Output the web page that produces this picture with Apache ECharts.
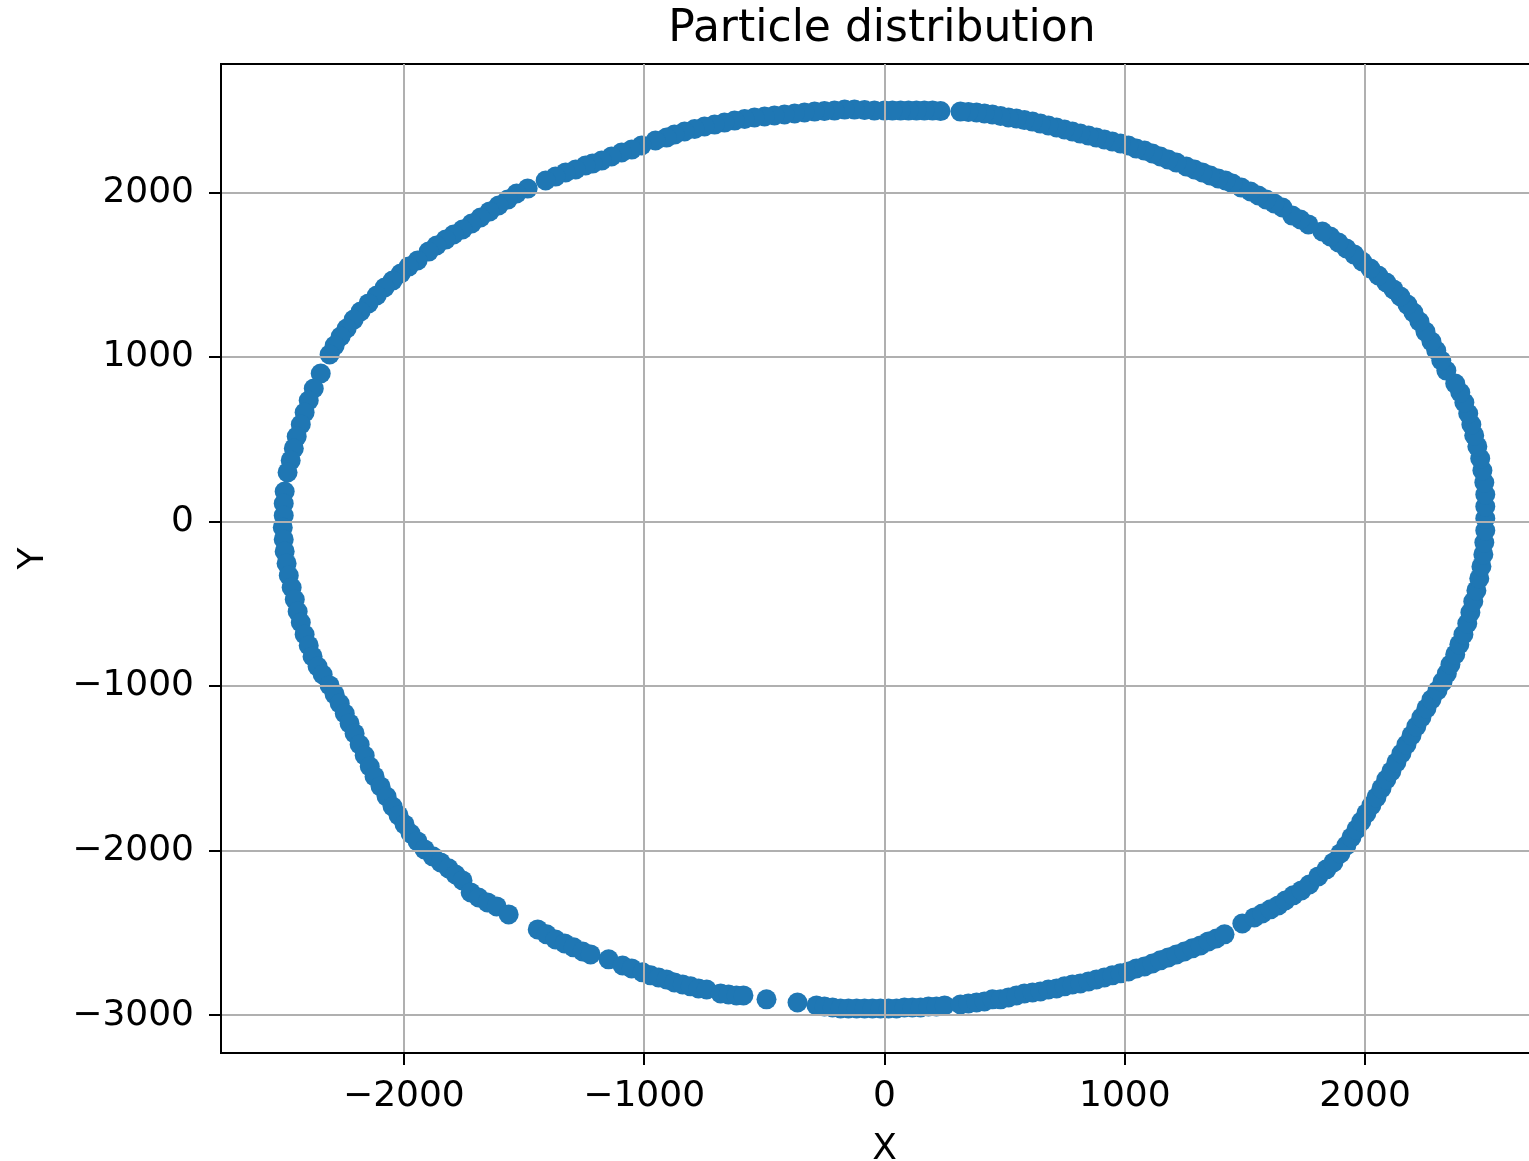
<!DOCTYPE html>
<html><head><meta charset="utf-8">
<script src="https://cdn.jsdelivr.net/npm/echarts@6/dist/echarts.min.js"></script>
<style>html,body{margin:0;padding:0;background:#fff}#chart{width:1529px;height:1161px}</style>
</head><body><div id="chart"></div>
<script>
const titleText = 'Particle distribution';
const xName = 'X';
const yName = 'Y';
const xTicks = [-2000, -1000, 0, 1000, 2000];
const yTicks = [-3000, -2000, -1000, 0, 1000, 2000];

const upperLeft = [
[0,2497],[-42,2497],[-83,2500],[-125,2503],[-166,2503],[-208,2497],[-250,2494],[-291,2491],[-333,2485],[-374,2479],[-416,2473],[-458,2467],[-499,2461],[-541,2455],[-582,2446],[-624,2436],[-666,2424],[-707,2412],[-749,2400],[-790,2385],[-832,2370],[-874,2351],[-907,2333],[-953,2315],
[-1011,2285],[-1052,2260],[-1094,2242],[-1136,2218],[-1177,2193],[-1215,2175],
[-1244,2163],[-1285,2139],[-1327,2121],[-1369,2096],[-1410,2072],
[-1485,2023],
[-1531,1993],[-1568,1956],[-1606,1920],[-1643,1884],[-1681,1847],[-1718,1811],[-1756,1774],[-1793,1744],[-1826,1713],
[-1864,1677],[-1897,1640],[-1943,1586],
[-1980,1549],[-2013,1507],[-2047,1464],[-2080,1422],[-2113,1373],[-2147,1325],[-2180,1276],[-2209,1227],[-2238,1173],[-2263,1124],[-2288,1069],[-2309,1015],
[-2346,899],
[-2375,808],[-2396,735],[-2413,662],[-2429,589],[-2446,516],[-2458,444],[-2471,371],[-2484,298]
];

const lowerLeft = [
[-2496,182],[-2500,109],[-2500,36],[-2504,-36],[-2500,-109],[-2496,-182],[-2488,-255],[-2479,-328],[-2467,-401],[-2454,-474],[-2442,-547],[-2429,-614],[-2413,-687],[-2396,-753],[-2380,-820],[-2359,-881],[-2338,-930],
[-2309,-996],[-2288,-1051],[-2267,-1106],[-2246,-1167],[-2226,-1227],[-2205,-1288],[-2184,-1355],[-2163,-1422],[-2142,-1489],[-2122,-1549],[-2097,-1610],[-2072,-1671],[-2047,-1732],[-2022,-1786],[-1997,-1841],[-1972,-1896],[-1943,-1944],[-1914,-1993],[-1880,-2035],[-1847,-2072],[-1814,-2108],[-1785,-2145],[-1756,-2181],
[-1722,-2254],[-1689,-2285],[-1652,-2315],[-1614,-2339],[-1564,-2388],
[-1443,-2479],[-1406,-2509],[-1369,-2540],[-1331,-2564],[-1294,-2588],[-1256,-2613],[-1223,-2631],
[-1148,-2661],
[-1090,-2698],[-1052,-2716],[-1007,-2740],[-973,-2758],[-940,-2771],[-907,-2783],[-874,-2801],[-840,-2813],[-807,-2825],[-774,-2838],[-740,-2844],
[-682,-2868],[-649,-2874],[-616,-2880],[-587,-2880],
[-491,-2904],[-362,-2923],
[-283,-2941],[-250,-2947],[-216,-2953],[-183,-2959],[-150,-2959],[-116,-2959],[-83,-2959],[-50,-2959],[-17,-2959]
];

const lowerRight = [
[17,-2959],[50,-2959],[83,-2953],[116,-2953],[150,-2953],[183,-2947],[216,-2947],[250,-2941],
[316,-2935],[349,-2929],[383,-2923],[416,-2917],[449,-2904],[483,-2904],[516,-2892],[549,-2880],[582,-2868],[616,-2862],[649,-2856],[682,-2844],[716,-2838],[749,-2825],[782,-2813],[815,-2807],
[849,-2795],[882,-2783],[915,-2771],[948,-2758],[982,-2746],[1015,-2734],[1048,-2716],[1082,-2704],[1115,-2686],[1148,-2667],[1181,-2649],[1215,-2631],[1248,-2613],[1281,-2594],[1315,-2576],[1348,-2552],[1381,-2534],[1415,-2509],
[1489,-2443],
[1539,-2406],[1572,-2382],[1606,-2357],[1639,-2333],
[1668,-2303],[1701,-2272],[1735,-2242],[1768,-2206],
[1805,-2157],[1839,-2114],[1868,-2072],[1897,-2017],[1922,-1969],[1943,-1920],[1964,-1871],[1984,-1823],[2005,-1774],[2026,-1726],[2047,-1677],[2068,-1622],[2088,-1568],[2109,-1519],[2130,-1464],[2151,-1410],[2172,-1355],[2193,-1300],[2213,-1246],[2234,-1191],[2255,-1136],[2276,-1082],
[2301,-1027],[2322,-975],[2340,-924],[2355,-869],[2375,-808],[2392,-747],[2409,-687],[2425,-620],[2438,-553],[2450,-486],[2463,-419],[2475,-346],[2484,-273],[2492,-200],[2496,-128],[2500,-55]
];

const upperRight = [
[2500,18],[2500,91],[2500,164],[2496,237],[2488,310],[2479,383],[2467,456],[2454,523],[2442,589],[2429,656],[2413,723],[2396,784],[2375,838],
[2338,917],[2317,978],[2296,1039],[2276,1094],[2251,1154],[2226,1215],[2201,1270],[2176,1318],[2147,1367],[2118,1410],[2088,1452],[2055,1495],[2022,1537],[1988,1580],[1955,1622],[1922,1659],[1889,1695],[1855,1732],[1822,1762],
[1764,1805],[1731,1835],[1697,1859],
[1656,1908],[1622,1932],[1589,1956],[1556,1981],[1523,2005],[1485,2029],[1448,2054],
[1419,2072],[1389,2084],[1356,2102],[1323,2121],[1290,2139],[1256,2157],
[1215,2181],[1181,2199],[1148,2218],[1115,2236],[1082,2254],[1048,2266],[1015,2285],[982,2297],[948,2309],[915,2321],[882,2333],[849,2345],[815,2357],[782,2370],[749,2382],[716,2394],[682,2406],[649,2418],[616,2430],[582,2439],[549,2449],[516,2455],[483,2464],[449,2473],[416,2479],[383,2485],[349,2488],[316,2491],
[233,2494],[200,2497],[166,2497],[133,2497],[100,2497],[67,2497],[33,2497]
];

const particles = upperLeft.concat(lowerLeft, lowerRight, upperRight);
const fmt = v => String(v).replace('-', '\u2212');
const FONT = 'DejaVu Sans';

const chart = echarts.init(document.getElementById('chart'), null, {renderer: 'canvas'});
chart.setOption({
  animation: false,
  backgroundColor: '#ffffff',
  textStyle: {fontFamily: FONT},
  graphic: [{
    type: 'text', x: 882, y: 8, z: 10,
    style: {text: titleText, fontSize: 44, fontFamily: FONT, fill: '#000', align: 'center', verticalAlign: 'top'}
  }],
  grid: {left: 221, right: -19, top: 64, bottom: 108, outerBoundsMode: 'none', containLabel: false,
         show: true, borderColor: '#000', borderWidth: 2, backgroundColor: 'transparent'},
  xAxis: {
    type: 'value', min: -2761, max: 2761, z: 3,
    name: xName, nameLocation: 'middle', nameGap: 79,
    nameTextStyle: {fontSize: 36, color: '#000', fontFamily: FONT},
    axisLine: {show: true, onZero: false, lineStyle: {color: '#000', width: 2}},
    axisTick: {show: true, inside: false, length: 12, customValues: xTicks, lineStyle: {color: '#000', width: 2}},
    axisLabel: {customValues: xTicks, formatter: fmt, fontSize: 36, color: '#000', margin: 26, fontFamily: FONT},
    splitLine: {show: true, lineStyle: {color: '#b0b0b0', width: 2}}
  },
  yAxis: {
    type: 'value', min: -3230, max: 2780, z: 3,
    name: yName, nameLocation: 'middle', nameGap: 169,
    nameTextStyle: {fontSize: 36, color: '#000', fontFamily: FONT},
    axisLine: {show: true, onZero: false, lineStyle: {color: '#000', width: 2}},
    axisTick: {show: true, inside: false, length: 12, customValues: yTicks, lineStyle: {color: '#000', width: 2}},
    axisLabel: {customValues: yTicks, formatter: fmt, fontSize: 36, color: '#000', margin: 27, fontFamily: FONT},
    splitLine: {show: true, lineStyle: {color: '#b0b0b0', width: 2}}
  },
  series: [{
    type: 'scatter', z: 2,
    data: particles,
    symbol: 'circle', symbolSize: 20,
    itemStyle: {color: '#1f77b4', opacity: 1}
  }]
});
</script>
</body></html>
